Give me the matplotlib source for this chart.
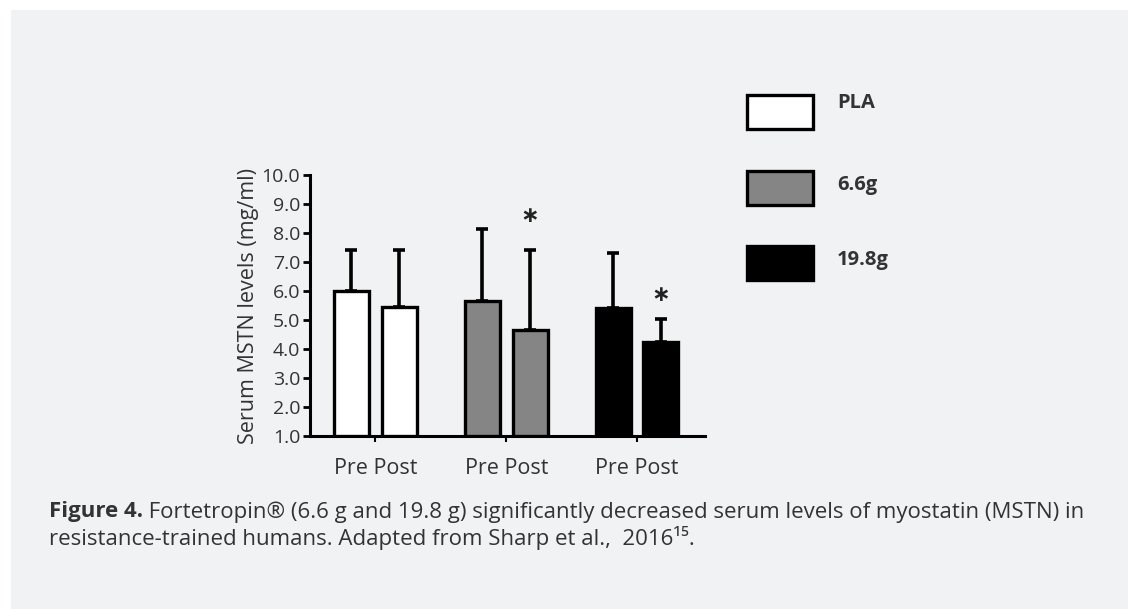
import numpy as np
import matplotlib.pyplot as plt
from matplotlib.patches import Rectangle

# data
groups = ['PLA', '6.6g', '19.8g']
pre_mean = [6.0, 5.65, 5.4]
post_mean = [5.45, 4.65, 4.25]
pre_top = [7.4, 8.15, 7.3]
post_top = [7.4, 7.4, 5.05]
star_y = [None, 8.6, 5.85]
fills = ['white', '#858585', 'black']
tick_labels = ['Pre Post', 'Pre Post', 'Pre Post']
yticks = np.arange(1, 10.5, 1.0)

bg = '#f1f2f4'
W, H = 1128, 609
fig = plt.figure(figsize=(W / 100, H / 100), dpi=100, facecolor='white')
plt.rcParams['font.family'] = ['Open Sans', 'DejaVu Sans']
txt = '#333333'

# light panel behind everything
fig.patches.append(Rectangle((11 / W, 0), 1 - 11 / W, 1 - 10 / H, transform=fig.transFigure,
                             facecolor=bg, edgecolor='none', zorder=-10))

ax = fig.add_axes([310 / W, (H - 436) / H, (705 - 310) / W, (436 - 175) / H])
ax.set_facecolor('none')

x = np.arange(len(groups))
bw = 0.267
off = 0.183
err_kw = dict(elinewidth=2.6, capthick=2.6, ecolor='black')
ax.bar(x - off, np.array(pre_mean) - 1, bottom=1, width=bw, color=fills, edgecolor='black', linewidth=2.4, zorder=3)
ax.bar(x + off, np.array(post_mean) - 1, bottom=1, width=bw, color=fills, edgecolor='black', linewidth=2.4, zorder=3)
ax.errorbar(x - off, pre_mean, yerr=[np.zeros(3), np.array(pre_top) - np.array(pre_mean)],
            fmt='none', capsize=4.5, zorder=2, **err_kw)
ax.errorbar(x + off, post_mean, yerr=[np.zeros(3), np.array(post_top) - np.array(post_mean)],
            fmt='none', capsize=4.5, zorder=2, **err_kw)
for i, s in enumerate(star_y):
    if s is not None:
        ax.text(x[i] + off, s, '∗', ha='center', va='center', fontsize=16, fontweight='bold',
                color='#222222', family='DejaVu Sans')

ax.set_xlim(-0.5, 2.52)
ax.set_ylim(1, 10)
ax.set_yticks(yticks)
ax.set_yticklabels([f'{v:.1f}' for v in yticks])
ax.set_xticks(x)
ax.set_xticklabels(tick_labels)
for s in ['top', 'right']:
    ax.spines[s].set_visible(False)
for s in ['left', 'bottom']:
    ax.spines[s].set_linewidth(2.2)
ax.tick_params(axis='y', length=5, width=2, labelsize=14, labelcolor=txt, color='black', pad=2)
ax.tick_params(axis='x', length=4, width=1.5, labelsize=15.5, labelcolor=txt, color='black', pad=12)
ax.set_ylabel('Serum MSTN levels (mg/ml)', fontsize=15.5, color=txt, labelpad=2)

# legend boxes drawn in figure pixels
leg_y = [112, 188, 263]
for g, c, yc in zip(groups, fills, leg_y):
    fig.patches.append(Rectangle((747 / W, (H - yc - 17) / H), 66 / W, 34 / H, transform=fig.transFigure,
                                 facecolor=c, edgecolor='black', linewidth=2.4))
    ty = yc - 9 if g == 'PLA' else yc - 3
    fig.text(837 / W, (H - ty) / H, g, fontsize=14.5, fontweight='bold', color=txt, va='center', ha='left')

# caption: bold lead then regular text, fitted to the reference width
cap_size = 13
r = fig.canvas.get_renderer()
lead = fig.text(49 / W, (H - 512) / H, 'Figure 4.', fontsize=cap_size, fontweight='bold', color=txt, va='center')
rest = fig.text(0, (H - 512) / H,
                ' Fortetropin® (6.6 g and 19.8 g) significantly decreased serum levels of myostatin (MSTN) in',
                fontsize=cap_size, color=txt, va='center')
line2 = fig.text(49 / W, (H - 538) / H, 'resistance-trained humans. Adapted from Sharp et al.,  2016¹⁵.',
                 fontsize=cap_size, color=txt, va='center')
for _ in range(3):
    w1 = lead.get_window_extent(r).width
    w2 = rest.get_window_extent(r).width
    cap_size *= (1085 - 49) / (w1 + w2)
    for t in (lead, rest, line2):
        t.set_fontsize(cap_size)
w1 = lead.get_window_extent(r).width
rest.set_x((49 + w1) / W)

fig.savefig('out.png', dpi=100, facecolor='white')
